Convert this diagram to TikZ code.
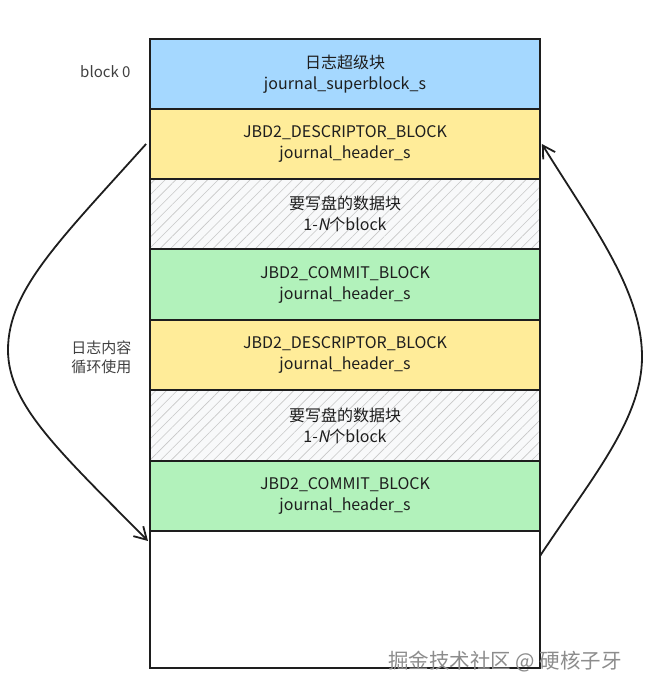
\documentclass[tikz,border=0pt]{standalone}
\usepackage{fontspec}
\setmainfont{Noto Sans CJK SC}[AutoFakeSlant=0.2]
\usetikzlibrary{arrows.meta,patterns.meta}
\definecolor{sblue}{HTML}{A5D8FF}
\definecolor{syellow}{HTML}{FFEC99}
\definecolor{sgreen}{HTML}{B2F2BB}
\definecolor{shatch}{HTML}{F8F9FA}
\definecolor{ink}{HTML}{1E1E1E}
\begin{document}
\begin{tikzpicture}[x=1pt,y=-1pt,
  blk/.style={draw=ink, line width=1.8pt, minimum width=390pt, inner sep=0pt,
    align=center, font=\fontsize{16}{21}\selectfont, text=ink},
  hatched/.style={preaction={fill=shatch},
    pattern={Lines[angle=45,distance=7.5pt,line width=0.6pt]}, pattern color=black!22},
  side/.style={font=\fontsize{15}{19}\selectfont, text=ink!85, align=right},
  arr/.style={draw=ink, line width=1.8pt, -{Straight Barb[length=12pt,width=14pt]}}]
\useasboundingbox (0,0) rectangle (653,695);
\node[blk, fill=sblue, minimum height=70pt] (b0) at (345,74) {日志超级块\\journal\_superblock\_s};
\node[blk, fill=syellow, minimum height=70pt] (b1) at (345,144) {JBD2\_DESCRIPTOR\_BLOCK\\journal\_header\_s};
\node[blk, hatched, minimum height=70pt] (b2) at (345,214) {要写盘的数据块\\1-\textit{N}个block};
\node[blk, fill=sgreen, minimum height=71pt] (b3) at (345,284.5) {JBD2\_COMMIT\_BLOCK\\journal\_header\_s};
\node[blk, fill=syellow, minimum height=70pt] (b4) at (345,355) {JBD2\_DESCRIPTOR\_BLOCK\\journal\_header\_s};
\node[blk, hatched, minimum height=71pt] (b5) at (345,425.5) {要写盘的数据块\\1-\textit{N}个block};
\node[blk, fill=sgreen, minimum height=70pt] (b6) at (345,496) {JBD2\_COMMIT\_BLOCK\\journal\_header\_s};
\node[blk, fill=white, minimum height=137pt] (b7) at (345,599.5) {};
\node[side, anchor=east] (lb0) at (134,72) {block 0};
\node[side, anchor=east] (lcyc) at (135,357) {日志内容\\循环使用};
\coordinate (lapex) at (8,350);
\coordinate (lend) at (148,541);
\coordinate (rstart) at (540,556);
\coordinate (rapex) at (642,357);
\draw[arr] ([xshift=-3pt]b1.west) .. controls (60,240) and (8,290) .. (lapex)
  .. controls (8,405) and (60,452) .. (lend);
\draw[arr] (rstart) .. controls (590,480) and (642,420) .. (rapex)
  .. controls (642,290) and (592,225) .. ([xshift=1pt]b1.east);
\node[font=\fontsize{20.5}{20.5}\selectfont, text=black!45] (wm) at (505,662) {掘金技术社区 @ 硬核子牙};
\end{tikzpicture}
\end{document}
